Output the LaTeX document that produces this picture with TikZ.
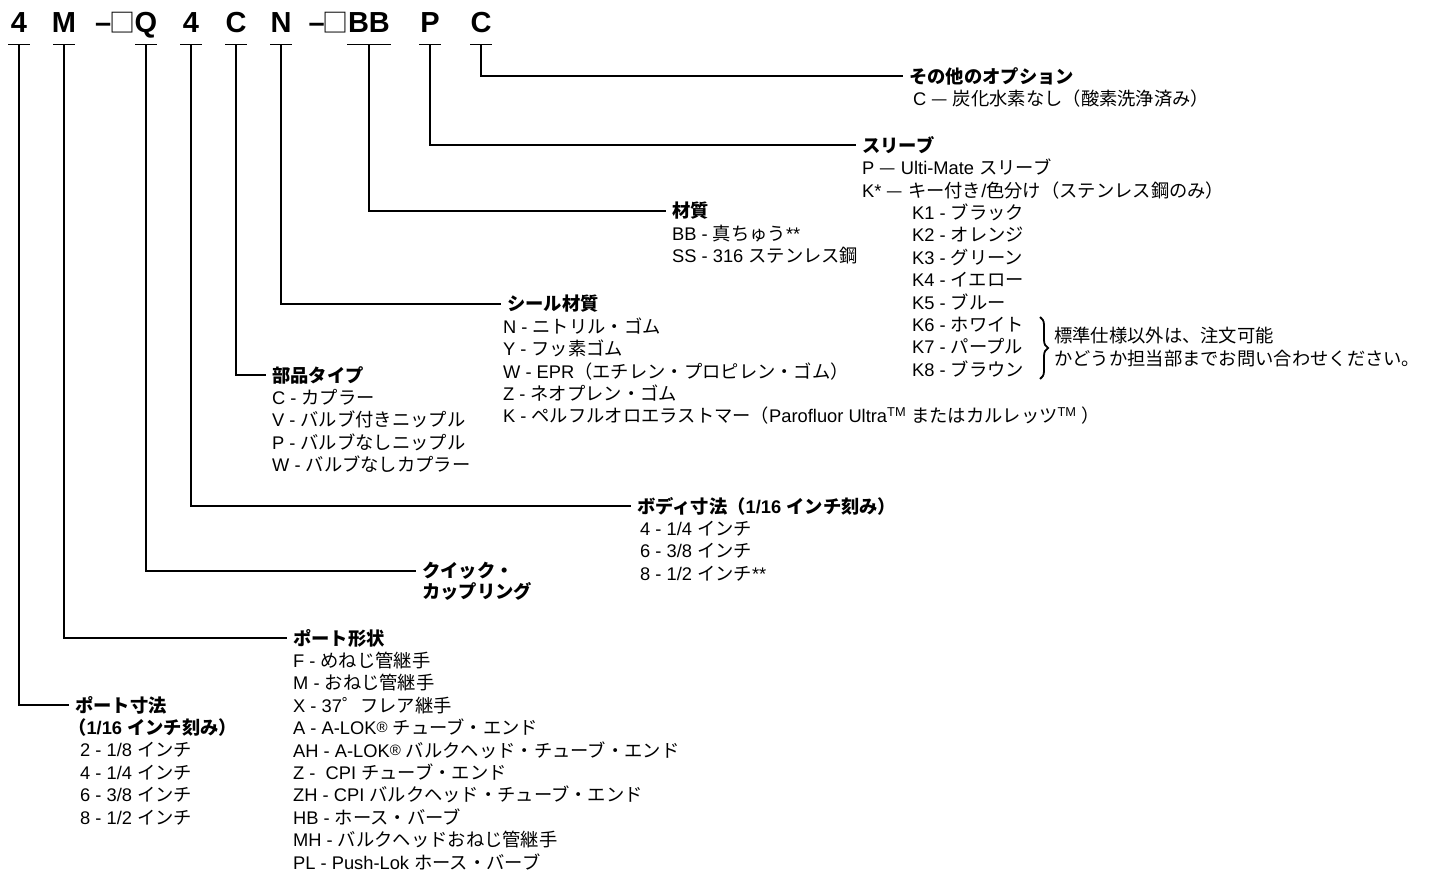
\documentclass[tikz,border=0pt]{standalone}
\usepackage{fontspec}
\setmainfont{Liberation Sans}
\newfontfamily\jpfam{Noto Sans CJK JP}
\usetikzlibrary{positioning, calc, decorations.pathreplacing}

% switch to the Japanese face for CJK characters
\XeTeXinterchartokenstate=1
\newXeTeXintercharclass\jpclass
\newcount\jpcode
\def\setjprange#1#2{\jpcode=#1 \loop \XeTeXcharclass\jpcode=\jpclass \advance\jpcode by 1 \ifnum\jpcode<#2 \repeat}
\setjprange{"3000}{"3100}
\setjprange{"4E00}{"A000}
\setjprange{"FF00}{"FFF0}
\XeTeXcharclass"2014=\jpclass
\XeTeXinterchartoks 0 \jpclass = {\jpfam}
\XeTeXinterchartoks 4095 \jpclass = {\jpfam}
\XeTeXinterchartoks \jpclass 0 = {\rmfamily}
\XeTeXinterchartoks \jpclass 4095 = {\rmfamily}

\newcommand{\regmark}{{\fontsize{15}{15}\selectfont\raisebox{2pt}{®}}}
\newcommand{\blankbox}{{\jpfam\mdseries\fontsize{26}{26}\selectfont\kern-2pt □\kern-1pt}}

\begin{document}
\begin{tikzpicture}[
  x=1pt, y=-1pt,
  code/.style={font=\fontsize{29}{29}\selectfont\bfseries, inner xsep=0pt, inner ysep=11pt, text depth=0pt, anchor=base},
  head/.style={font=\fontsize{18.3}{22.4}\selectfont\bfseries, inner xsep=6pt, anchor=west},
  item/.style={font=\fontsize{18.3}{22.4}\selectfont, inner xsep=6pt, anchor=base west},
  lead/.style={line width=1.2pt}
]
\useasboundingbox (0,0) rectangle (1435,872);

% Part number
\foreach \x/\n/\t in {19/cSize/4, 64/cForm/M, 146/cQuick/Q, 191/cBody/4, 236/cType/C, 281/cSeal/N, 369/cMat/BB, 430/cSleeve/P, 481/cOpt/C} {
  \node[code] (\n) at (\x, 33) {\t};
}
\node[code, anchor=base east] (dashA) at (cQuick.base west) {–\blankbox};
\node[code, anchor=base east] (dashB) at (cMat.base west) {–\blankbox};

% Ticks under the letters
\foreach \n/\w in {cSize/11, cForm/11, cQuick/11, cBody/11, cType/11, cSeal/11, cMat/22, cSleeve/11, cOpt/11} {
  \draw[lead] ([xshift=-\w pt]\n.south) -- ([xshift=\w pt]\n.south);
}

% Other options
\node[head] (tOpt) at (903, 76) {その他のオプション};
\node[item] (opt-1) at ($(tOpt.base west)+(4, 22.4)$) {C — 炭化水素なし（酸素洗浄済み）};

% Sleeve
\node[head] (tSleeve) at (856, 145) {スリーブ};
\foreach \t [count=\i] in {{P — Ulti-Mate スリーブ}, {K* — キー付き/色分け（ステンレス鋼のみ）}} {
  \node[item] (sleeve-\i) at ($(tSleeve.base west)+(0, \i*22.4)$) {\t};
}
\foreach \t [count=\i from 3] in {{K1 - ブラック}, {K2 - オレンジ}, {K3 - グリーン}, {K4 - イエロー}, {K5 - ブルー}, {K6 - ホワイト}, {K7 - パープル}, {K8 - ブラウン}} {
  \node[item] (sleeve-\i) at ($(tSleeve.base west)+(50, \i*22.4)$) {\t};
}
\coordinate (braceTop) at (1040, 317);
\coordinate (braceBot) at (1040, 379);
\draw[line width=1.8pt, decorate, decoration={brace, amplitude=8pt}] (braceTop) -- (braceBot);
\node[item, anchor=west, align=left] (note) at (1048, 347) {標準仕様以外は、注文可能\\かどうか担当部までお問い合わせください。};

% Material
\node[head] (tMat) at (666, 211) {材質};
\foreach \t [count=\i] in {{BB - 真ちゅう**}, {SS - 316 ステンレス鋼}} {
  \node[item] (mat-\i) at ($(tMat.base west)+(0, \i*22.4)$) {\t};
}

% Seal material
\node[head] (tSeal) at (501, 304) {シール材質};
\foreach \t [count=\i] in {{N - ニトリル・ゴム}, {Y - フッ素ゴム}, {W - EPR（エチレン・プロピレン・ゴム）}, {Z - ネオプレン・ゴム}, {K - ペルフルオロエラストマー（Parofluor Ultra\textsuperscript{TM} またはカルレッツ\textsuperscript{TM} ）}} {
  \node[item] (seal-\i) at ($(tSeal.base west)+(-4, \i*22.4)$) {\t};
}

% Part type
\node[head] (tType) at (266, 375) {部品タイプ};
\foreach \t [count=\i] in {{C - カプラー}, {V - バルブ付きニップル}, {P - バルブなしニップル}, {W - バルブなしカプラー}} {
  \node[item] (type-\i) at ($(tType.base west)+(0, \i*22.4)$) {\t};
}

% Body size
\node[head] (tBody) at (631, 506) {ボディ寸法（1/16 インチ刻み）};
\foreach \t [count=\i] in {{4 - 1/4 インチ}, {6 - 3/8 インチ}, {8 - 1/2 インチ**}} {
  \node[item] (body-\i) at ($(tBody.base west)+(3, \i*22.4)$) {\t};
}

% Quick coupling
\node[head] (tQuick) at (416, 571) {クイック・};
\node[head, anchor=base west] (tQuick-2) at ($(tQuick.base west)+(0, 21)$) {カップリング};

% Port form
\node[head] (tForm) at (287, 638) {ポート形状};
\foreach \t [count=\i] in {{F - めねじ管継手}, {M - おねじ管継手}, {X - 37゜フレア継手}, {A - A-LOK\regmark{} チューブ・エンド}, {AH - A-LOK\regmark{} バルクヘッド・チューブ・エンド}, {Z - \ CPI チューブ・エンド}, {ZH - CPI バルクヘッド・チューブ・エンド}, {HB - ホース・バーブ}, {MH - バルクヘッドおねじ管継手}, {PL - Push-Lok ホース・バーブ}} {
  \node[item] (form-\i) at ($(tForm.base west)+(0, \i*22.4)$) {\t};
}

% Port size
\node[head] (tSize) at (69, 705) {ポート寸法};
\node[item, font=\fontsize{18.3}{22.4}\selectfont\bfseries] (size-1) at ($(tSize.base west)+(-7, 22.4)$) {（1/16 インチ刻み）};
\foreach \t [count=\i from 2] in {{2 - 1/8 インチ}, {4 - 1/4 インチ}, {6 - 3/8 インチ}, {8 - 1/2 インチ}} {
  \node[item] (size-\i) at ($(tSize.base west)+(5, \i*22.4)$) {\t};
}

% Leaders
\draw[lead] (cOpt.south) |- (tOpt.west);
\draw[lead] (cSleeve.south) |- (tSleeve.west);
\draw[lead] (cMat.south) |- (tMat.west);
\draw[lead] (cSeal.south) |- (tSeal.west);
\draw[lead] (cType.south) |- (tType.west);
\draw[lead] (cBody.south) |- (tBody.west);
\draw[lead] (cQuick.south) |- (tQuick.west);
\draw[lead] (cForm.south) |- (tForm.west);
\draw[lead] (cSize.south) |- (tSize.west);
\end{tikzpicture}
\end{document}
